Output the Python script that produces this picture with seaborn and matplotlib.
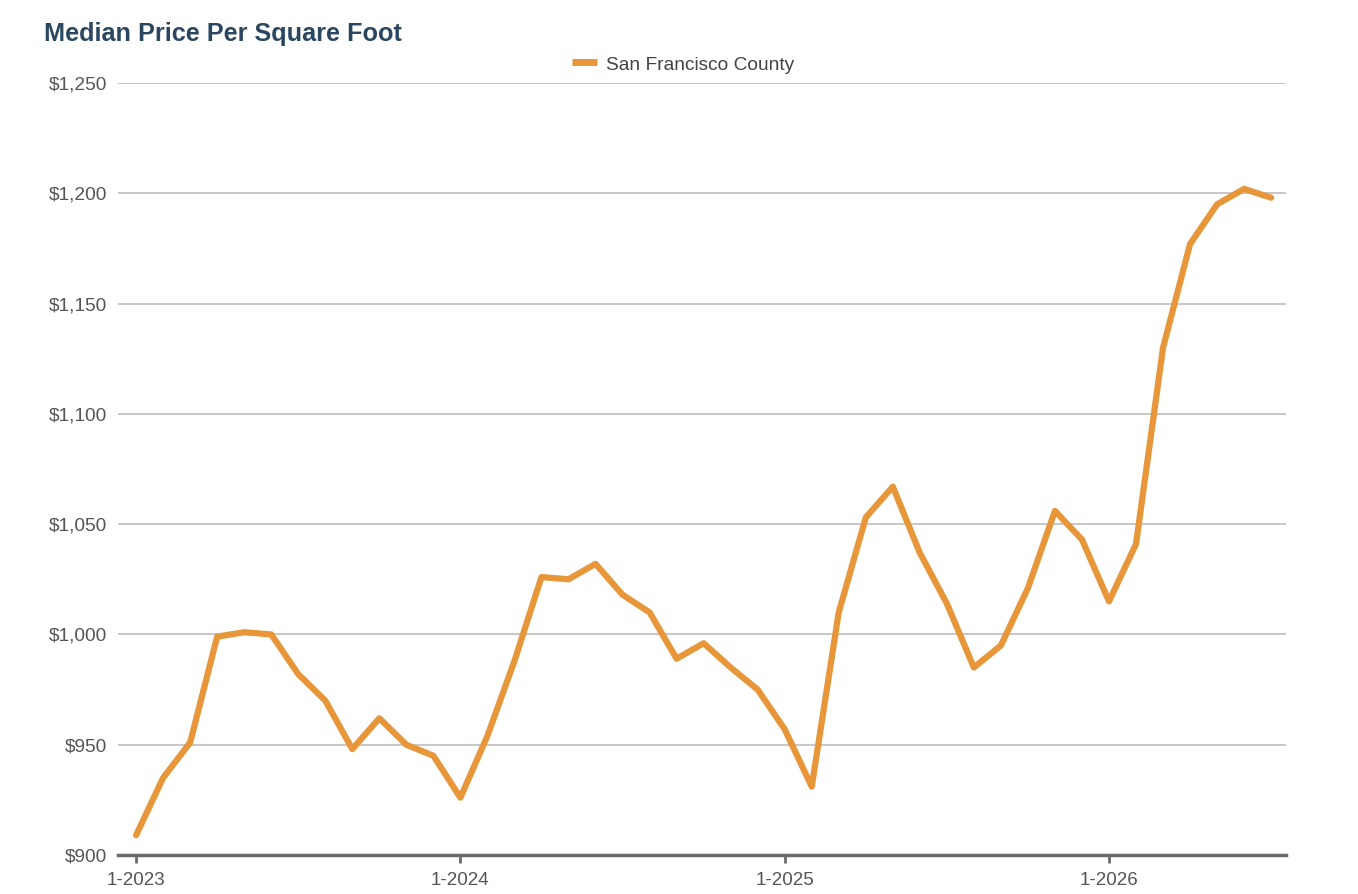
import matplotlib
matplotlib.use('Agg')
import matplotlib.pyplot as plt
import seaborn as sns
import pandas as pd

# Median price per square foot, monthly from 1-2023 to 7-2026
months = list(range(43))
prices = [909, 935, 951, 999, 1001, 1000, 982, 970, 948, 962, 950, 945,
          926, 954, 988, 1026, 1025, 1032, 1018, 1010, 989, 996, 985, 975,
          957, 931, 1010, 1053, 1067, 1037, 1014, 985, 995, 1021, 1056, 1043,
          1015, 1041, 1130, 1177, 1195, 1202, 1198]
tick_pos = [0, 12, 24, 36]
tick_labels = ["1-2023", "1-2024", "1-2025", "1-2026"]
y_ticks = [900, 950, 1000, 1050, 1100, 1150, 1200, 1250]
series_name = "San Francisco County"

df = pd.DataFrame({"month": months, "price": prices, "area": series_name})

sns.set_theme(style="white")
plt.rcParams['font.family'] = ['Liberation Sans', 'DejaVu Sans']

fig = plt.figure(figsize=(13.58, 8.94), dpi=100)
ax = fig.add_axes([118 / 1358, (894 - 855) / 894, (1286 - 118) / 1358, (855 - 83) / 894])

sns.lineplot(data=df, x="month", y="price", hue="area", palette=["#E8963A"],
             linewidth=4.5, ax=ax, legend=False)
for ln in ax.lines:
    ln.set_solid_joinstyle('round')
    ln.set_solid_capstyle('round')

ax.set_xlim(-0.67, 42.55)
ax.set_ylim(900, 1250)
ax.set_yticks(y_ticks)
ax.set_yticklabels([f"${v:,}" for v in y_ticks])
ax.set_xticks(tick_pos)
ax.set_xticklabels(tick_labels)
ax.grid(axis='y', color='#bdbdbd', linewidth=1.2)
ax.set_axisbelow(True)
for s in ['top', 'right', 'left']:
    ax.spines[s].set_visible(False)
ax.spines['bottom'].set_color('#6b6b6b')
ax.spines['bottom'].set_linewidth(2.5)
ax.tick_params(axis='x', bottom=True, length=6, width=2, color='#6b6b6b',
               labelsize=13.5, labelcolor='#555555', pad=6.5)
ax.tick_params(axis='y', left=False, length=0, labelsize=13.8, labelcolor='#555555', pad=7.5)
ax.set_xlabel("")
ax.set_ylabel("")

fig.text(44 / 1358, 1 - 34 / 894, "Median Price Per Square Foot", fontsize=18.2,
         fontweight='bold', color='#2b4760', va='center', ha='left')

# legend
fig.lines.append(plt.Line2D([572 / 1358, 597 / 1358], [1 - 62 / 894, 1 - 62 / 894],
                            transform=fig.transFigure, color='#E8963A', linewidth=5,
                            solid_capstyle='butt'))
fig.text(606 / 1358, 1 - 63 / 894, series_name, fontsize=13.8, color='#444444',
         va='center_baseline', ha='left')

fig.savefig("out.png", dpi=100)
